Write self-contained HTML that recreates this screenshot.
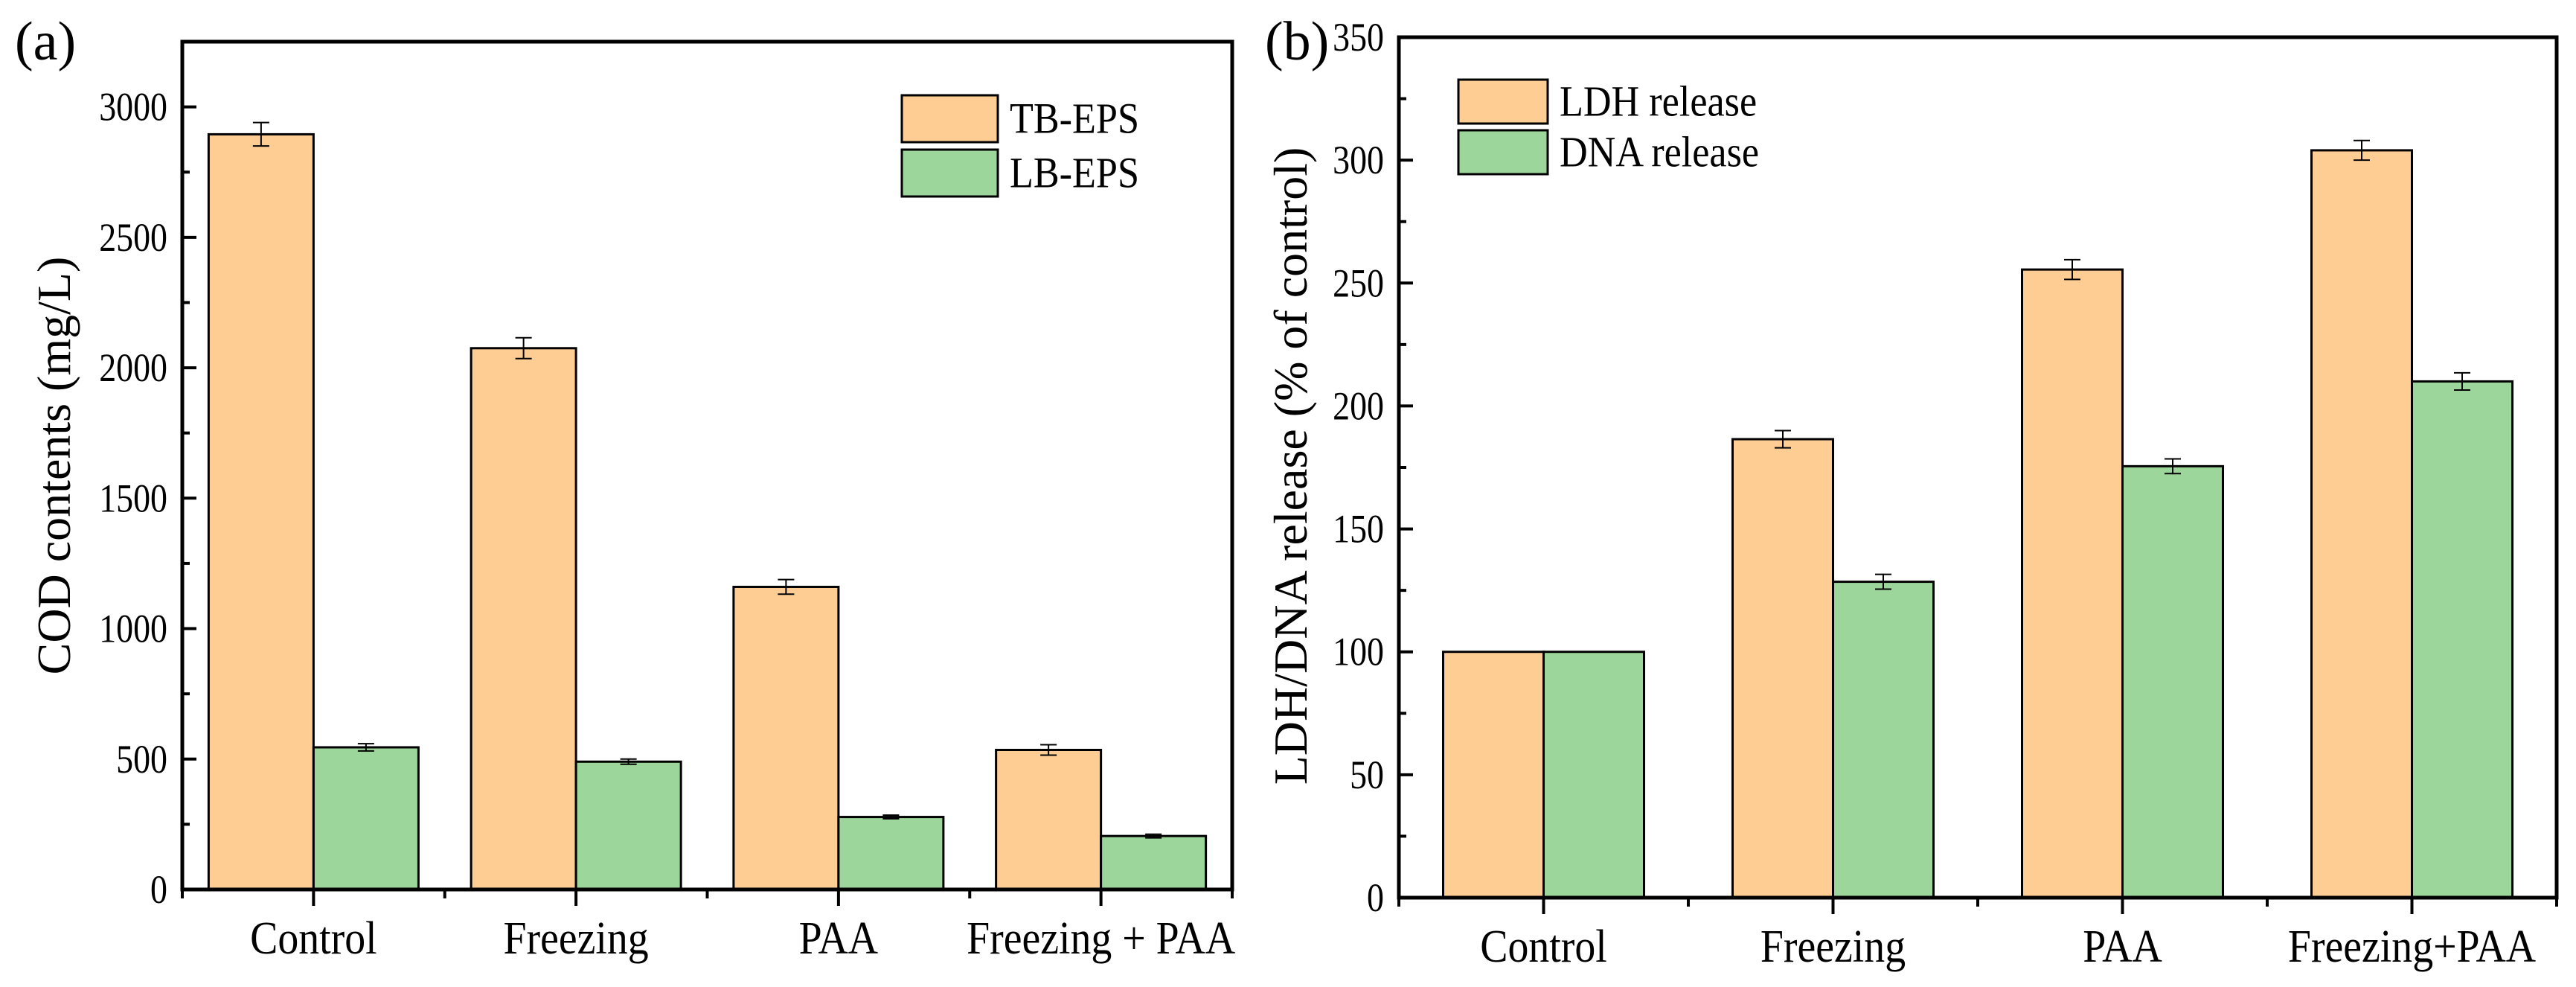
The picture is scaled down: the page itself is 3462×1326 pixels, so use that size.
<!DOCTYPE html>
<html><head><meta charset="utf-8"><style>
html,body{margin:0;padding:0;background:#fff;}
text{font-family:"Liberation Serif","Noto Serif CJK SC","DejaVu Serif",serif !important;fill:#000;}
</style></head><body>
<svg id="c" width="3462" height="1321" xmlns="http://www.w3.org/2000/svg"></svg>
<script>
const catsA=["Control","Freezing","PAA","Freezing + PAA"];
const tbVals=[2895,2075,1160,535];
const tbErr=[45,40,28,20];
const lbVals=[545,490,278,205];
const lbErr=[14,10,7,7];
const ticksA=[0,500,1000,1500,2000,2500,3000];
const catsB=["Control","Freezing","PAA","Freezing+PAA"];
const ldhVals=[100,186.5,255.5,304];
const ldhErr=[0,3.5,4,4];
const dnaVals=[100,128.5,175.5,210];
const dnaErr=[0,3,3,3.5];
const ticksB=[0,50,100,150,200,250,300,350];

const NS="http://www.w3.org/2000/svg";
const svg=document.getElementById('c');
function mk(tag,attrs,parent){const e=document.createElementNS(NS,tag);for(const k in attrs)e.setAttribute(k,attrs[k]);(parent||svg).appendChild(e);return e;}
const OR="#fdcd94",GR="#9dd69a";

function panel(p){
  const g=mk('g',{});
  
  
  const y=v=>p.bottom-(v/p.ymax)*(p.bottom-p.top);
  const n=p.cats.length, step=(p.right-p.left)/n;
  const cx=i=>p.left+step*(i+0.5);
  for(let v=p.minor;v<p.ymax;v+=p.minor){
    const isMaj=p.ticks.includes(v);
    const t=mk('line',{x1:p.left,x2:p.left+(isMaj?19:10),y1:y(v),y2:y(v),stroke:'#000','stroke-width':4},g);
    
    
  }
  p.ticks.forEach(v=>{
    const t=mk('text',{x:p.left-20,y:y(v)+18,'font-size':54,'text-anchor':'end',transform:`translate(${p.left-20},0) scale(0.85,1) translate(${-(p.left-20)},0)`},g);
    t.textContent=v;
    
    
  });
  for(let i=0;i<=n*2;i++){
    const xx=p.left+step*i/2;
    const maj=i%2===1;
    const t=mk('line',{x1:xx,x2:xx,y1:p.bottom,y2:p.bottom+(maj?22:12),stroke:'#000','stroke-width':4},g);
    
    
  }
  p.cats.forEach((c,i)=>{
    const t=mk('text',{x:cx(i),y:p.bottom+86,'font-size':62,'text-anchor':'middle',transform:`translate(${cx(i)},0) scale(0.9,1) translate(${-cx(i)},0)`},g);
    t.textContent=c;
    
    
  });
  const bw=p.bw;
  [[p.s1,p.e1,OR,0],[p.s2,p.e2,GR,1]].forEach(([vals,errs,col,k])=>{
    vals.forEach((v,i)=>{
      const x0=cx(i)-bw+k*bw;
      const r=mk('rect',{x:x0,y:y(v),width:bw,height:p.bottom-y(v),fill:col,stroke:'#000','stroke-width':3},g);
      
      
      if(errs[i]>0){
        const xm=x0+bw/2, yt=y(v+errs[i]), yb=y(v-errs[i]);
        const e=mk('path',{d:`M${xm-11},${yt}H${xm+11}M${xm},${yt}V${yb}M${xm-11},${yb}H${xm+11}`,stroke:'#000','stroke-width':2,fill:'none'},g);
        
        
      }
    });
  });
  const f=mk('rect',{x:p.left,y:p.top,width:p.right-p.left,height:p.bottom-p.top,fill:'none',stroke:'#000','stroke-width':5},g);
  
  
  const ty=(p.top+p.bottom)/2+p.tyOff;
  const tt=mk('text',{x:0,y:0,'font-size':64,'text-anchor':'middle',transform:`translate(${p.tx},${ty}) rotate(-90)`},g);
  tt.textContent=p.title;
  
  
  [[OR,p.n1l,p.leg.y1],[GR,p.n2l,p.leg.y2]].forEach(([col,lab,yy],k)=>{
    const r=mk('rect',{x:p.leg.x,y:yy,width:p.leg.w,height:p.leg.h,fill:col,stroke:'#000','stroke-width':3},g);
    
    
    const lx=p.leg.x+p.leg.w+16;
    const t=mk('text',{x:lx,y:yy+p.leg.h/2+19,'font-size':58,transform:`translate(${lx},0) scale(0.9,1) translate(${-lx},0)`},g);
    t.textContent=lab;
    
    
  });
  const pl=mk('text',{x:p.plx,y:80,'font-size':74},g);
  pl.textContent=p.plabel;
  
  
}
panel({name:'panel-a',left:245,right:1656,top:56,bottom:1195,ymax:3250,minor:250,ticks:ticksA,cats:catsA,
  s1:tbVals,e1:tbErr,s2:lbVals,e2:lbErr,n1:'tb-eps',n2:'lb-eps',n1l:'TB-EPS',n2l:'LB-EPS',bw:141,
  title:'COD contents (mg/L)',tx:94,tyOff:0,leg:{x:1212,w:129,h:63,y1:128,y2:201},plabel:'(a)',plx:20});
panel({name:'panel-b',left:1880,right:3436,top:50,bottom:1206,ymax:350,minor:25,ticks:ticksB,cats:catsB,
  s1:ldhVals,e1:ldhErr,s2:dnaVals,e2:dnaErr,n1:'ldh',n2:'dna',n1l:'LDH release',n2l:'DNA release',bw:135,
  title:'LDH/DNA release (% of control)',tx:1756,tyOff:-2,leg:{x:1960,w:120,h:59,y1:107,y2:175},plabel:'(b)',plx:1700});
</script>
</body></html>
